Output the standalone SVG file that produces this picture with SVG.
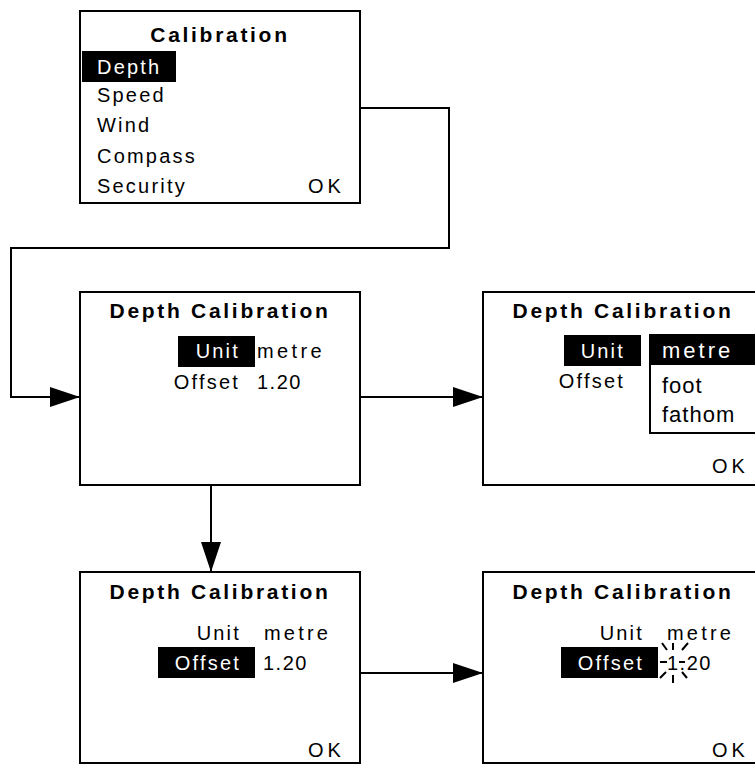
<svg xmlns="http://www.w3.org/2000/svg" width="755" height="765" viewBox="0 0 755 765">
<style>
.box{fill:#fff;stroke:#000;stroke-width:2}
.hl{fill:#000}
.t{font-family:"Liberation Sans",Arial,sans-serif;font-size:20px;fill:#000;letter-spacing:2.2px}
.ttl{font-family:"Liberation Sans",Arial,sans-serif;font-size:21px;font-weight:bold;fill:#000;letter-spacing:2.7px;text-anchor:middle}
.end{text-anchor:end}
.dd{font-family:"Liberation Sans",Arial,sans-serif;font-size:22px;fill:#000;letter-spacing:1px}
.w{fill:#fff}
.con{fill:none;stroke:#000;stroke-width:2}
.sp{stroke:#000;stroke-width:2;fill:none}
</style>
<defs>
<marker id="arr" markerUnits="userSpaceOnUse" markerWidth="30" markerHeight="20" refX="30" refY="10" orient="auto">
<path d="M0,0 L30,10 L0,20 Z" fill="#000"/>
</marker>
</defs>
<g id="connectors">
<path class="con" d="M360,108 H449 V248 H11 V397 H80" marker-end="url(#arr)"/>
<path class="con" d="M360,397 H483" marker-end="url(#arr)"/>
<path class="con" d="M211,485 V572" marker-end="url(#arr)"/>
<path class="con" d="M360,673 H483" marker-end="url(#arr)"/>
</g>
<g id="calibration-menu">
<rect class="box" x="80" y="11" width="280" height="192"/>
<text class="ttl" x="220" y="42">Calibration</text>
<rect class="hl" x="82" y="51" width="94" height="31"/>
<text class="t w" x="97" y="74">Depth</text>
<text class="t" x="97" y="102">Speed</text>
<text class="t" x="97" y="132">Wind</text>
<text class="t" x="97" y="163">Compass</text>
<text class="t" x="97" y="193">Security</text>
<text class="t" x="308" y="193" style="letter-spacing:4px">OK</text>
</g>
<g id="depth-cal-unit">
<rect class="box" x="80" y="292" width="280" height="193"/>
<text class="ttl" x="220" y="318">Depth Calibration</text>
<rect class="hl" x="178" y="336" width="77" height="31"/>
<text class="t w end" x="240" y="358">Unit</text>
<text class="t" x="257" y="358" style="letter-spacing:3.4px">metre</text>
<text class="t end" x="240" y="389">Offset</text>
<text class="t" x="257" y="389" style="letter-spacing:1.5px">1.20</text>
</g>
<g id="depth-cal-unit-list">
<rect class="box" x="483" y="292" width="280" height="193"/>
<text class="ttl" x="623" y="318">Depth Calibration</text>
<rect class="hl" x="564" y="335" width="77" height="31"/>
<text class="t w end" x="625" y="358">Unit</text>
<text class="t end" x="625" y="388">Offset</text>
<rect class="box" x="650" y="335" width="120" height="98"/>
<rect class="hl" x="650" y="335" width="110" height="30"/>
<text class="dd w" x="662" y="358" style="letter-spacing:3px">metre</text>
<text class="dd" x="662" y="393">foot</text>
<text class="dd" x="662" y="422">fathom</text>
<text class="t" x="712" y="473" style="letter-spacing:4px">OK</text>
</g>
<g id="depth-cal-offset">
<rect class="box" x="80" y="572" width="280" height="191"/>
<text class="ttl" x="220" y="599">Depth Calibration</text>
<text class="t end" x="241" y="640">Unit</text>
<text class="t" x="264" y="640" style="letter-spacing:3.2px">metre</text>
<rect class="hl" x="158" y="647" width="97" height="31"/>
<text class="t w end" x="241" y="670">Offset</text>
<text class="t" x="263" y="670" style="letter-spacing:1.5px">1.20</text>
<text class="t" x="308" y="757" style="letter-spacing:4px">OK</text>
</g>
<g id="depth-cal-offset-edit">
<rect class="box" x="483" y="572" width="280" height="191"/>
<text class="ttl" x="623" y="599">Depth Calibration</text>
<text class="t end" x="644" y="640">Unit</text>
<text class="t" x="667" y="640" style="letter-spacing:3.2px">metre</text>
<rect class="hl" x="561" y="647" width="97" height="31"/>
<text class="t w end" x="644" y="670">Offset</text>
<text class="t" x="667" y="670" style="letter-spacing:1.5px">1.20</text>
<g class="sp">
<path d="M673,643 V650 M673,675 V683 M660,662 H667 M679,662 H685 M662,643 L667,650 M688,643 L682,650 M660,678 L666,672 M682,672 L687,678"/>
</g>
<text class="t" x="712" y="757" style="letter-spacing:4px">OK</text>
</g>
</svg>
